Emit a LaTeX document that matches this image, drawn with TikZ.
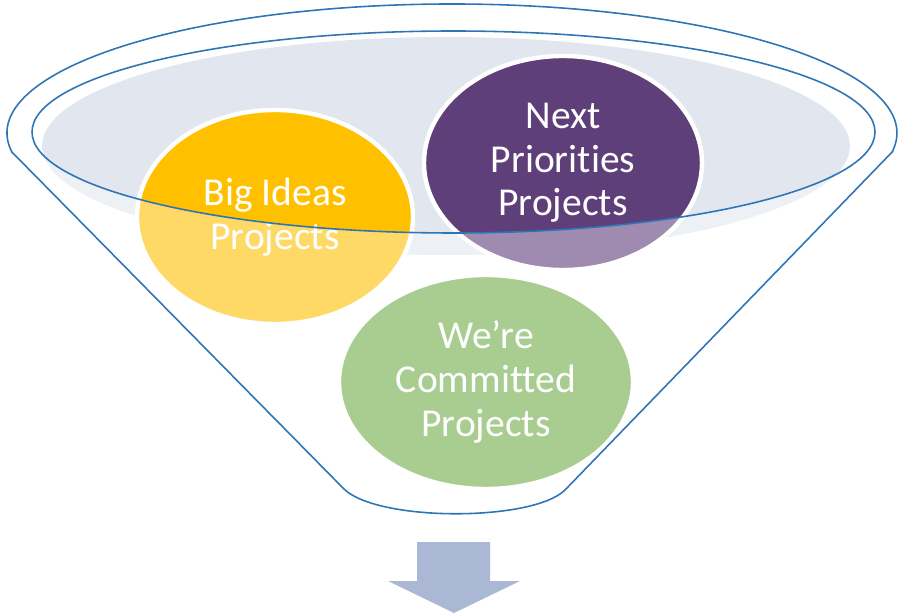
\documentclass[tikz,border=0pt]{standalone}
\usepackage{fontspec}
\setmainfont{Carlito}[Ligatures=NoCommon]
\usetikzlibrary{shapes.geometric}

\definecolor{rimblue}{HTML}{2E75B6}
\definecolor{mouthgray}{HTML}{E2E6EF}
\definecolor{ideagold}{HTML}{FFC000}
\definecolor{nextpurple}{HTML}{5F3F7A}
\definecolor{commitgreen}{HTML}{70AD47}
\definecolor{arrowblue}{HTML}{AAB8D5}

\begin{document}
\begin{tikzpicture}[
    bubble/.style={ellipse, draw=white, line width=2.5pt, text=white, align=center,
      inner sep=0pt, minimum height=4.28cm, font=\fontsize{22.5}{24.8}\selectfont},
    rim/.style={draw=rimblue, line width=0.9pt}]
  \useasboundingbox (0,0) rectangle (18.06,12.26);
  % corners of the funnel
  \coordinate (rimL) at (0.238,9.219);
  \coordinate (rimR) at (17.842,9.219);
  \coordinate (neckL) at (6.86,2.5);
  \coordinate (neckR) at (11.3,2.46);
  % mouth
  \fill[mouthgray] (8.92,9.34) ellipse [x radius=8.08, y radius=2.18];
  % project bubbles
  \node[bubble, fill=ideagold, minimum width=5.52cm] (ideas) at (5.5,7.92) {Big Ideas\\Projects};
  \node[bubble, fill=nextpurple, minimum width=5.56cm] (next) at (11.26,9.0) {Next\\Priorities\\Projects};
  \node[bubble, fill=commitgreen, minimum width=5.88cm] (commit) at (9.72,4.62) {We’re\\Committed\\Projects};
  % front wall of the funnel
  \fill[white, fill opacity=0.4] (rimR) -- (neckR) .. controls (10.65,1.82) and (7.5,1.82) .. (neckL)
    -- (rimL) -- (0.64,9.62) arc [start angle=180, end angle=360, x radius=8.43, y radius=2.02] -- cycle;
  % outline
  \draw[rim] (rimR) -- (neckR) .. controls (10.65,1.82) and (7.5,1.82) .. (neckL) -- (rimL)
    arc [start angle=188.5, end angle=-8.5, x radius=8.9, y radius=2.58] -- cycle;
  \draw[rim] (9.07,9.62) ellipse [x radius=8.43, y radius=2.02];
  % arrow out
  \fill[arrowblue] (8.34,1.42) -- (9.8,1.42) -- (9.8,0.64) -- (10.4,0.64) -- (9.08,0)
    -- (7.76,0.64) -- (8.34,0.64) -- cycle;
\end{tikzpicture}
\end{document}
